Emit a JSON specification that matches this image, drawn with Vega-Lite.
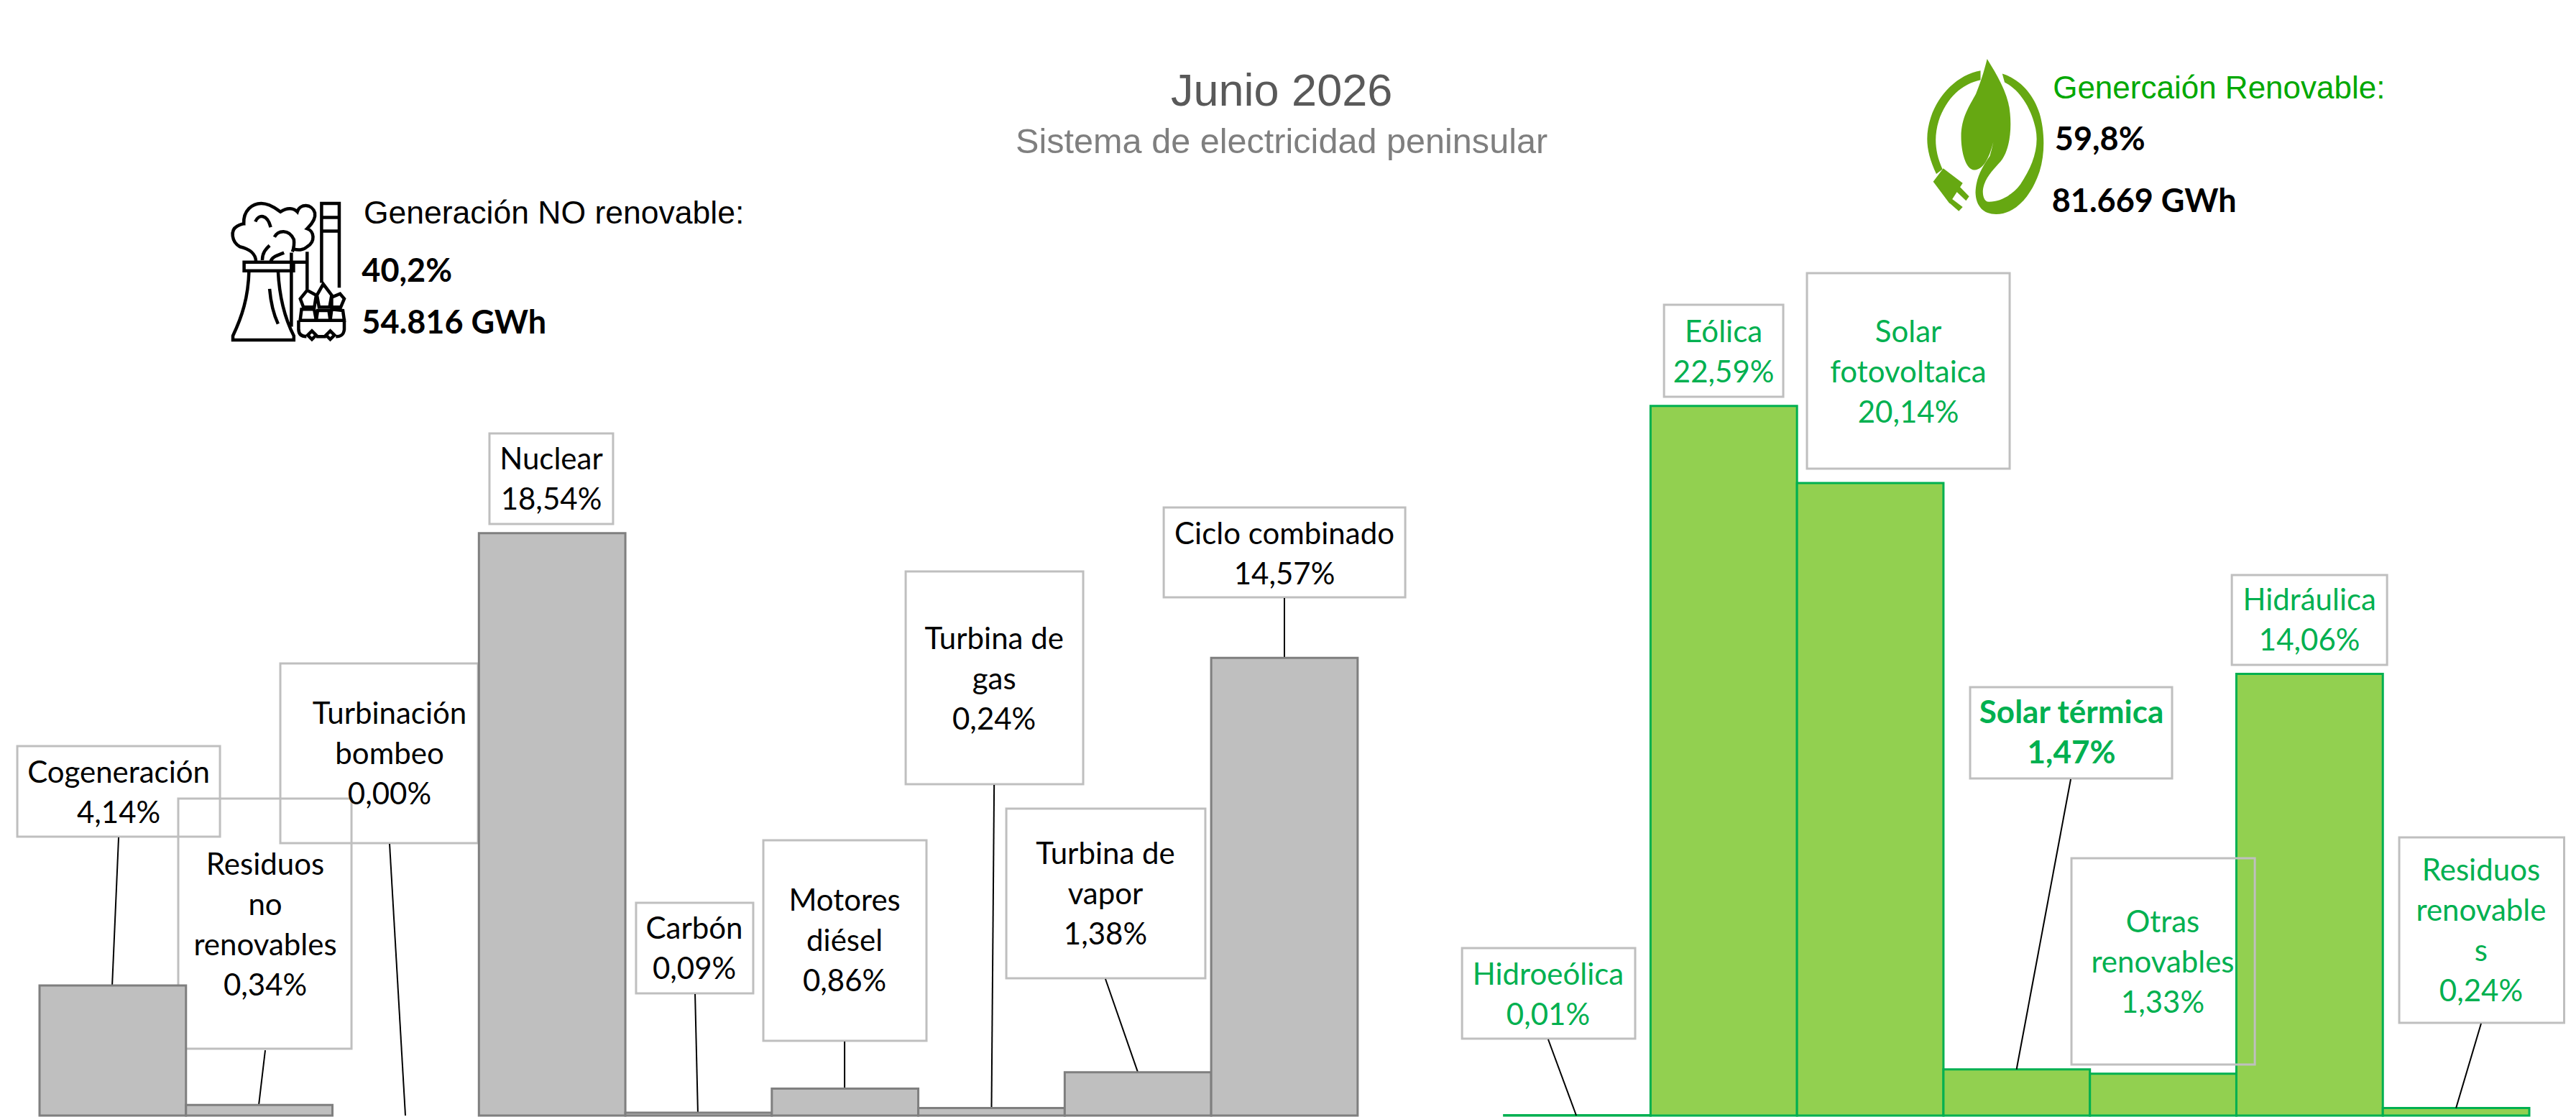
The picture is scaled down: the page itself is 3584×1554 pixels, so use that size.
{
"$schema":"https://vega.github.io/schema/vega-lite/v6.json",
"width":3584,"height":1554,
"autosize":{"type":"fit","contains":"padding"},
"padding":0,
"background":"white",
"config":{
"view":{"stroke":null},
"axis":{"disable":true},
"text":{"font":"Lato","fontSize":42,"lineBreak":"\n","lineHeight":56,"baseline":"middle","color":"#000000"},
"rect":{"fill":"transparent","stroke":"#BFBFBF","strokeWidth":3},
"rule":{"stroke":"#000000","strokeWidth":2}
},
"datasets":{
"generacion":[
{"fuente":"Cogeneración","grupo":"No renovable","pct":4.14,"etiqueta":"Cogeneración\n4,14%"},
{"fuente":"Residuos no renovables","grupo":"No renovable","pct":0.34,"etiqueta":"Residuos\nno\nrenovables\n0,34%"},
{"fuente":"Turbinación bombeo","grupo":"No renovable","pct":0.00,"etiqueta":"Turbinación\nbombeo\n0,00%"},
{"fuente":"Nuclear","grupo":"No renovable","pct":18.54,"etiqueta":"Nuclear\n18,54%"},
{"fuente":"Carbón","grupo":"No renovable","pct":0.09,"etiqueta":"Carbón\n0,09%"},
{"fuente":"Motores diésel","grupo":"No renovable","pct":0.86,"etiqueta":"Motores\ndiésel\n0,86%"},
{"fuente":"Turbina de gas","grupo":"No renovable","pct":0.24,"etiqueta":"Turbina de\ngas\n0,24%"},
{"fuente":"Turbina de vapor","grupo":"No renovable","pct":1.38,"etiqueta":"Turbina de\nvapor\n1,38%"},
{"fuente":"Ciclo combinado","grupo":"No renovable","pct":14.57,"etiqueta":"Ciclo combinado\n14,57%"},
{"fuente":"Hidroeólica","grupo":"Renovable","pct":0.01,"etiqueta":"Hidroeólica\n0,01%"},
{"fuente":"Eólica","grupo":"Renovable","pct":22.59,"etiqueta":"Eólica\n22,59%"},
{"fuente":"Solar fotovoltaica","grupo":"Renovable","pct":20.14,"etiqueta":"Solar\nfotovoltaica\n20,14%"},
{"fuente":"Solar térmica","grupo":"Renovable","pct":1.47,"etiqueta":"Solar térmica\n1,47%"},
{"fuente":"Otras renovables","grupo":"Renovable","pct":1.33,"etiqueta":"Otras\nrenovables\n1,33%"},
{"fuente":"Hidráulica","grupo":"Renovable","pct":14.06,"etiqueta":"Hidráulica\n14,06%"},
{"fuente":"Residuos renovables","grupo":"Renovable","pct":0.24,"etiqueta":"Residuos\nrenovable\ns\n0,24%"}
],
"resumen":[
{"grupo":"Sistema","titulo":"Junio 2026","detalle":"Sistema de electricidad peninsular"},
{"grupo":"No renovable","titulo":"Generación NO renovable:","porcentaje":"40,2%","energia":"54.816 GWh"},
{"grupo":"Renovable","titulo":"Genercaión Renovable:","porcentaje":"59,8%","energia":"81.669 GWh"}
]
},
"resolve":{"scale":{"x":"independent"}},
"layer":[
{"data":{"name":"generacion"},"layer":[
{"transform":[{"filter":"datum.fuente==='Cogeneración'"}],"layer":[
{"mark":"rect","encoding":{"x":{"datum":-0.152,"scale":{"domain":[-0.27,17.319],"nice":false,"zero":false}},"x2":{"datum":1.232},"y":{"datum":11.762,"scale":{"domain":[-0.046,35.516],"nice":false,"zero":false}},"y2":{"datum":8.879}}},
{"mark":"rule","encoding":{"x":{"datum":0.54},"x2":{"datum":0.496},"y":{"datum":8.856},"y2":{"datum":4.14}}},
{"mark":"text","encoding":{"x":{"datum":0.54},"y":{"datum":10.892},"text":{"field":"etiqueta"}}}
]},
{"transform":[{"filter":"datum.fuente==='Residuos no renovables'"}],"layer":[
{"mark":"rect","encoding":{"x":{"datum":0.947},"x2":{"datum":2.13},"y":{"datum":10.091},"y2":{"datum":2.128}}},
{"mark":"rule","encoding":{"x":{"datum":1.541},"x2":{"datum":1.497},"y":{"datum":2.082},"y2":{"datum":0.34}}},
{"mark":"text","encoding":{"x":{"datum":1.541},"y":{"datum":7.963},"text":{"field":"etiqueta"}}}
]},
{"transform":[{"filter":"datum.fuente==='Turbinación bombeo'"}],"layer":[
{"mark":"rect","encoding":{"x":{"datum":1.644},"x2":{"datum":2.994},"y":{"datum":14.394},"y2":{"datum":8.673}}},
{"mark":"rule","encoding":{"x":{"datum":2.39},"x2":{"datum":2.498},"y":{"datum":8.65},"y2":{"datum":0}}},
{"mark":"text","encoding":{"x":{"datum":2.39},"y":{"datum":12.769},"text":{"field":"etiqueta"}}}
]},
{"transform":[{"filter":"datum.fuente==='Nuclear'"}],"layer":[
{"mark":"rect","encoding":{"x":{"datum":3.072},"x2":{"datum":3.916},"y":{"datum":21.716},"y2":{"datum":18.833}}},
{"mark":"text","encoding":{"x":{"datum":3.494},"y":{"datum":20.869},"text":{"field":"etiqueta"}}}
]},
{"transform":[{"filter":"datum.fuente==='Carbón'"}],"layer":[
{"mark":"rect","encoding":{"x":{"datum":4.073},"x2":{"datum":4.873},"y":{"datum":6.773},"y2":{"datum":3.89}}},
{"mark":"rule","encoding":{"x":{"datum":4.476},"x2":{"datum":4.495},"y":{"datum":3.867},"y2":{"datum":0.09}}},
{"mark":"text","encoding":{"x":{"datum":4.471},"y":{"datum":5.927},"text":{"field":"etiqueta"}}}
]},
{"transform":[{"filter":"datum.fuente==='Motores diésel'"}],"layer":[
{"mark":"rect","encoding":{"x":{"datum":4.942},"x2":{"datum":6.056},"y":{"datum":8.764},"y2":{"datum":2.38}}},
{"mark":"rule","encoding":{"x":{"datum":5.497},"x2":{"datum":5.497},"y":{"datum":2.357},"y2":{"datum":0.86}}},
{"mark":"text","encoding":{"x":{"datum":5.497},"y":{"datum":6.819},"text":{"field":"etiqueta"}}}
]},
{"transform":[{"filter":"datum.fuente==='Turbina de gas'"}],"layer":[
{"mark":"rect","encoding":{"x":{"datum":5.914},"x2":{"datum":7.126},"y":{"datum":17.323},"y2":{"datum":10.549}}},
{"mark":"rule","encoding":{"x":{"datum":6.518},"x2":{"datum":6.5},"y":{"datum":10.526},"y2":{"datum":0.24}}},
{"mark":"text","encoding":{"x":{"datum":6.518},"y":{"datum":15.149},"text":{"field":"etiqueta"}}}
]},
{"transform":[{"filter":"datum.fuente==='Turbina de vapor'"}],"layer":[
{"mark":"rect","encoding":{"x":{"datum":6.601},"x2":{"datum":7.96},"y":{"datum":9.771},"y2":{"datum":4.371}}},
{"mark":"rule","encoding":{"x":{"datum":7.278},"x2":{"datum":7.499},"y":{"datum":4.348},"y2":{"datum":1.38}}},
{"mark":"text","encoding":{"x":{"datum":7.278},"y":{"datum":8.307},"text":{"field":"etiqueta"}}}
]},
{"transform":[{"filter":"datum.fuente==='Ciclo combinado'"}],"layer":[
{"mark":"rect","encoding":{"x":{"datum":7.676},"x2":{"datum":9.325},"y":{"datum":19.359},"y2":{"datum":16.499}}},
{"mark":"rule","encoding":{"x":{"datum":8.5},"x2":{"datum":8.5},"y":{"datum":16.476},"y2":{"datum":14.57}}},
{"mark":"text","encoding":{"x":{"datum":8.5},"y":{"datum":18.489},"text":{"field":"etiqueta"}}}
]}
]},
{"data":{"name":"generacion"},"transform":[{"filter":"datum.pct>0"}],"mark":{"type":"bar","strokeWidth":3},"encoding":{
"x":{"field":"fuente","type":"nominal","sort":null,"scale":{"domain":["Cogeneración","Residuos no renovables","Turbinación bombeo","Nuclear","Carbón","Motores diésel","Turbina de gas","Turbina de vapor","Ciclo combinado"," ","Hidroeólica","Eólica","Solar fotovoltaica","Solar térmica","Otras renovables","Hidráulica","Residuos renovables"],"range":[55,3519],"padding":0}},
"y":{"field":"pct","type":"quantitative","scale":{"domain":[-0.046,35.516],"nice":false,"zero":false}},
"fill":{"field":"grupo","type":"nominal","scale":{"domain":["No renovable","Renovable"],"range":["#BFBFBF","#92D050"]},"legend":null},
"stroke":{"field":"grupo","type":"nominal","scale":{"domain":["No renovable","Renovable"],"range":["#7F7F7F","#00B050"]},"legend":null}
}},
{"layer":[
{"data":{"name":"generacion"},"layer":[
{"transform":[{"filter":"datum.fuente==='Hidroeólica'"}],"layer":[
{"mark":"rect","encoding":{"x":{"datum":9.713,"scale":{"domain":[-0.27,17.319],"nice":false,"zero":false}},"x2":{"datum":10.895},"y":{"datum":5.332},"y2":{"datum":2.449}}},
{"mark":"rule","encoding":{"x":{"datum":10.301},"x2":{"datum":10.493},"y":{"datum":2.426},"y2":{"datum":0}}},
{"mark":{"type":"text","color":"#00B050"},"encoding":{"x":{"datum":10.301},"y":{"datum":4.462},"text":{"field":"etiqueta"}}}
]},
{"transform":[{"filter":"datum.fuente==='Eólica'"}],"layer":[
{"mark":"rect","encoding":{"x":{"datum":11.092},"x2":{"datum":11.906},"y":{"datum":25.812},"y2":{"datum":22.883}}},
{"mark":{"type":"text","color":"#00B050"},"encoding":{"x":{"datum":11.499},"y":{"datum":24.92},"text":{"field":"etiqueta"}}}
]},
{"transform":[{"filter":"datum.fuente==='Solar fotovoltaica'"}],"layer":[
{"mark":"rect","encoding":{"x":{"datum":12.068},"x2":{"datum":13.452},"y":{"datum":26.819},"y2":{"datum":20.595}}},
{"mark":{"type":"text","color":"#00B050"},"encoding":{"x":{"datum":12.76},"y":{"datum":24.92},"text":{"field":"etiqueta"}}}
]},
{"transform":[{"filter":"datum.fuente==='Solar térmica'"}],"layer":[
{"mark":"rect","encoding":{"x":{"datum":13.182},"x2":{"datum":14.561},"y":{"datum":13.638},"y2":{"datum":10.732}}},
{"mark":"rule","encoding":{"x":{"datum":13.869},"x2":{"datum":13.499},"y":{"datum":10.709},"y2":{"datum":1.47}}},
{"mark":{"type":"text","color":"#00B050","fontWeight":"bold","fontSize":44},"encoding":{"x":{"datum":13.874},"y":{"datum":12.792},"text":{"field":"etiqueta"}}}
]},
{"transform":[{"filter":"datum.fuente==='Otras renovables'"}],"layer":[
{"mark":"rect","encoding":{"x":{"datum":13.874},"x2":{"datum":15.126},"y":{"datum":8.192},"y2":{"datum":1.625}}},
{"mark":{"type":"text","color":"#00B050"},"encoding":{"x":{"datum":14.497},"y":{"datum":6.133},"text":{"field":"etiqueta"}}}
]},
{"transform":[{"filter":"datum.fuente==='Hidráulica'"}],"layer":[
{"mark":"rect","encoding":{"x":{"datum":14.969},"x2":{"datum":16.029},"y":{"datum":17.208},"y2":{"datum":14.348}}},
{"mark":{"type":"text","color":"#00B050"},"encoding":{"x":{"datum":15.499},"y":{"datum":16.384},"text":{"field":"etiqueta"}}}
]},
{"transform":[{"filter":"datum.fuente==='Residuos renovables'"}],"layer":[
{"mark":"rect","encoding":{"x":{"datum":16.112},"x2":{"datum":17.238},"y":{"datum":8.856},"y2":{"datum":2.952}}},
{"mark":"rule","encoding":{"x":{"datum":16.671},"x2":{"datum":16.5},"y":{"datum":2.929},"y2":{"datum":0.24}}},
{"mark":{"type":"text","color":"#00B050"},"encoding":{"x":{"datum":16.671},"y":{"datum":7.78},"text":{"field":"etiqueta"}}}
]}
]},
{"data":{"name":"resumen"},"layer":[
{"transform":[{"filter":"datum.grupo==='Sistema'"}],"layer":[
{"mark":{"type":"text","font":"Liberation Sans","fontSize":63,"color":"#595959"},"encoding":{"x":{"datum":8.481},"y":{"datum":32.586},"text":{"field":"titulo"}}},
{"mark":{"type":"text","font":"Liberation Sans","fontSize":48.6,"color":"#7F7F7F"},"encoding":{"x":{"datum":8.481},"y":{"datum":30.984},"text":{"field":"detalle"}}}
]},
{"transform":[{"filter":"datum.grupo==='No renovable'"}],"layer":[
{"mark":{"type":"point","filled":false,"opacity":1,"stroke":"#000000","strokeWidth":4.5,"size":38000,"shape":"M-0.63,-0.14 L0.076,-0.14 L0.076,-0.017 L-0.63,-0.017 Z M-0.56,-0.017 C-0.57,0.36 -0.66,0.64 -0.79,0.91 L-0.79,0.97 L0.08,0.97 L0.08,0.91 C-0.08,0.6 -0.13,0.29 -0.145,-0.017 M-0.266,0.24 C-0.25,0.43 -0.21,0.6 -0.145,0.74 M-0.46,-0.155 C-0.47,-0.276 -0.557,-0.33 -0.69,-0.362 C-0.81,-0.43 -0.83,-0.6 -0.73,-0.655 C-0.66,-0.69 -0.645,-0.69 -0.634,-0.69 C-0.645,-0.88 -0.51,-0.98 -0.386,-0.98 C-0.25,-0.98 -0.145,-0.88 -0.11,-0.86 C-0.007,-0.93 0.08,-0.91 0.13,-0.86 C0.166,-0.98 0.34,-0.98 0.38,-0.845 C0.4,-0.74 0.304,-0.655 0.27,-0.62 C0.374,-0.586 0.39,-0.43 0.27,-0.362 C0.217,-0.31 0.13,-0.31 0.08,-0.33 M-0.197,-0.5 C-0.145,-0.6 0.01,-0.62 0.08,-0.466 C0.09,-0.396 0.08,-0.345 0.06,-0.29 M-0.47,-0.72 C-0.42,-0.83 -0.3,-0.83 -0.25,-0.64 M-0.37,-0.17 C-0.37,-0.276 -0.32,-0.33 -0.266,-0.38 M-0.25,-0.155 C-0.23,-0.22 -0.145,-0.24 -0.06,-0.276 M0.045,-0.276 L0.045,0.78 M0.27,-0.29 L0.27,0.29 M0.045,-0.14 L0.27,-0.14 M0.476,0.155 L0.476,-0.98 L0.728,-0.98 L0.728,0.224 M0.476,-0.78 L0.728,-0.78 M0.476,-0.586 L0.728,-0.586 M0.172,0.38 L0.27,0.26 L0.4,0.33 L0.373,0.5 L0.217,0.5 Z M0.41,0.33 L0.5,0.17 L0.62,0.33 L0.59,0.5 L0.44,0.5 Z M0.62,0.36 L0.74,0.31 L0.8,0.38 L0.75,0.5 L0.62,0.5 Z M0.19,0.53 L0.37,0.53 L0.4,0.69 L0.17,0.69 Z M0.42,0.55 L0.58,0.55 L0.6,0.69 L0.4,0.69 Z M0.62,0.53 L0.78,0.55 L0.8,0.69 L0.6,0.69 Z M0.148,0.69 L0.8,0.69 L0.8,0.82 C0.79,0.9 0.75,0.92 0.68,0.92 M0.26,0.92 C0.18,0.92 0.15,0.88 0.148,0.82 L0.148,0.69 M0.4,0.92 L0.54,0.92 M0.338,0.84 L0.398,0.9 L0.338,0.96 L0.278,0.9 Z M0.6,0.84 L0.66,0.9 L0.6,0.96 L0.54,0.9 Z"},"encoding":{"x":{"datum":1.698},"y":{"datum":26.854}}},
{"mark":{"type":"text","font":"Liberation Sans","fontSize":44.5,"align":"left"},"encoding":{"x":{"datum":2.213},"y":{"datum":28.696},"text":{"field":"titulo"}}},
{"mark":{"type":"text","fontWeight":"bold","fontSize":45,"align":"left"},"encoding":{"x":{"datum":2.2},"y":{"datum":26.865},"text":{"field":"porcentaje"}}},
{"mark":{"type":"text","fontWeight":"bold","fontSize":45,"align":"left"},"encoding":{"x":{"datum":2.2},"y":{"datum":25.217},"text":{"field":"energia"}}}
]},
{"transform":[{"filter":"datum.grupo==='Renovable'"}],"layer":[
{"mark":{"type":"point","filled":true,"opacity":1,"fill":"#66A812","stroke":null,"size":46656,"shape":"M0.025,-1 C-0.02,-0.82 -0.06,-0.7 -0.12,-0.55 C-0.2,-0.4 -0.31,-0.25 -0.31,0 C-0.31,0.2 -0.25,0.43 -0.14,0.43 C0,0.43 0.08,0.2 0.12,0 C0.16,-0.2 0.15,-0.35 0.123,-0.42 C0.15,-0.3 0.16,-0.1 0.06,0.25 C-0.03,0.38 -0.12,0.52 -0.125,0.72 C-0.12,0.9 -0.02,1 0.14,1 C0.4,1 0.6,0.75 0.7,0.45 C0.78,0.2 0.76,-0.1 0.7,-0.3 C0.62,-0.55 0.45,-0.74 0.22,-0.81 L0.25,-0.7 C0.45,-0.6 0.6,-0.35 0.65,-0.1 C0.7,0.15 0.6,0.4 0.45,0.62 C0.35,0.75 0.2,0.84 0.05,0.84 C-0.02,0.84 -0.03,0.75 -0.03,0.7 C-0.02,0.55 0.1,0.43 0.2,0.32 C0.32,0.17 0.34,-0.1 0.32,-0.3 C0.3,-0.55 0.16,-0.78 0.025,-1 Z M-0.06,-0.85 L-0.06,-0.73 C-0.3,-0.68 -0.5,-0.5 -0.6,-0.2 C-0.66,0 -0.65,0.2 -0.55,0.42 L-0.63,0.48 C-0.76,0.2 -0.78,0 -0.7,-0.25 C-0.6,-0.55 -0.35,-0.8 -0.06,-0.85 Z M-0.67,0.58 L-0.54,0.41 L-0.29,0.6 L-0.46,0.86 Z M-0.355,0.617 L-0.207,0.77 L-0.247,0.825 L-0.4,0.68 Z M-0.43,0.8 L-0.29,0.907 L-0.34,0.96 L-0.47,0.846 Z"},"encoding":{"x":{"datum":13.285},"y":{"datum":31.167}}},
{"mark":{"type":"text","font":"Liberation Sans","fontSize":44,"align":"left","color":"#00A800"},"encoding":{"x":{"datum":13.747},"y":{"datum":32.677},"text":{"field":"titulo"}}},
{"mark":{"type":"text","fontWeight":"bold","fontSize":45,"align":"left"},"encoding":{"x":{"datum":13.76},"y":{"datum":31.053},"text":{"field":"porcentaje"}}},
{"mark":{"type":"text","fontWeight":"bold","fontSize":45,"align":"left"},"encoding":{"x":{"datum":13.74},"y":{"datum":29.085},"text":{"field":"energia"}}}
]}
]}
]}
]
}
